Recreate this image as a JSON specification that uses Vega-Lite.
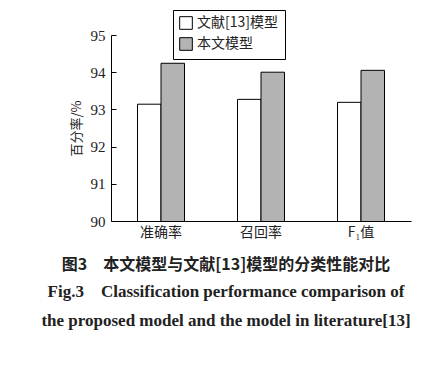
{
  "$schema": "https://vega.github.io/schema/vega-lite/v6.json",
  "width": 300,
  "height": 186,
  "autosize": {"type": "none"},
  "padding": {"left": 111, "top": 35, "right": 37, "bottom": 146},
  "background": "white",
  "data": {
    "values": [
      {"metric": "准确率", "model": "文献[13]模型", "value": 93.14},
      {"metric": "准确率", "model": "本文模型", "value": 94.24},
      {"metric": "召回率", "model": "文献[13]模型", "value": 93.27},
      {"metric": "召回率", "model": "本文模型", "value": 94.0},
      {"metric": "F₁值", "model": "文献[13]模型", "value": 93.19},
      {"metric": "F₁值", "model": "本文模型", "value": 94.05}
    ]
  },
  "title": {
    "text": "图3　本文模型与文献[13]模型的分类性能对比",
    "subtitle": ["Fig.3　Classification performance comparison of", "the proposed model and the model in literature[13]"],
    "orient": "bottom",
    "anchor": "middle",
    "frame": "group",
    "dx": -35,
    "offset": 18,
    "font": "Noto Sans CJK SC",
    "fontSize": 16,
    "fontWeight": "bold",
    "color": "#222",
    "subtitleFont": "Liberation Serif",
    "subtitleFontSize": 17,
    "subtitleFontWeight": "bold",
    "subtitleColor": "#222",
    "subtitleLineHeight": 29,
    "subtitlePadding": 11
  },
  "config": {
    "view": {"stroke": null},
    "axis": {"grid": false, "domainColor": "black", "tickColor": "black", "labelColor": "#222", "titleColor": "#222"}
  },
  "mark": {"type": "bar", "stroke": "black", "strokeWidth": 1, "clip": true},
  "encoding": {
    "x": {
      "field": "metric",
      "type": "nominal",
      "sort": ["准确率", "召回率", "F₁值"],
      "scale": {"paddingInner": 0.53, "paddingOuter": 0.265},
      "axis": {
        "title": null,
        "ticks": false,
        "labelAngle": 0,
        "labelFont": "Noto Sans CJK SC",
        "labelFontSize": 14,
        "labelPadding": 4
      }
    },
    "xOffset": {"field": "model", "type": "nominal", "sort": ["文献[13]模型", "本文模型"]},
    "y": {
      "field": "value",
      "type": "quantitative",
      "scale": {"domain": [90, 95], "zero": false, "nice": false},
      "axis": {
        "title": "百分率/%",
        "titleFont": "Noto Sans CJK SC",
        "titleFontSize": 13,
        "titleFontWeight": "normal",
        "titlePadding": 7,
        "values": [90, 91, 92, 93, 94, 95],
        "tickSize": -5,
        "labelPadding": 11,
        "labelFont": "Liberation Serif",
        "labelFontSize": 15
      }
    },
    "fill": {
      "field": "model",
      "type": "nominal",
      "sort": ["文献[13]模型", "本文模型"],
      "scale": {"range": ["white", "#b3b3b3"]},
      "legend": {
        "title": null,
        "orient": "none",
        "legendX": 62,
        "legendY": -25,
        "direction": "vertical",
        "symbolType": "square",
        "symbolSize": 160,
        "symbolStrokeColor": "black",
        "symbolStrokeWidth": 1,
        "labelFont": "Noto Sans CJK SC",
        "labelFontSize": 14,
        "labelColor": "#222",
        "rowPadding": 3,
        "padding": 6,
        "strokeColor": "black",
        "fillColor": "white"
      }
    }
  }
}
